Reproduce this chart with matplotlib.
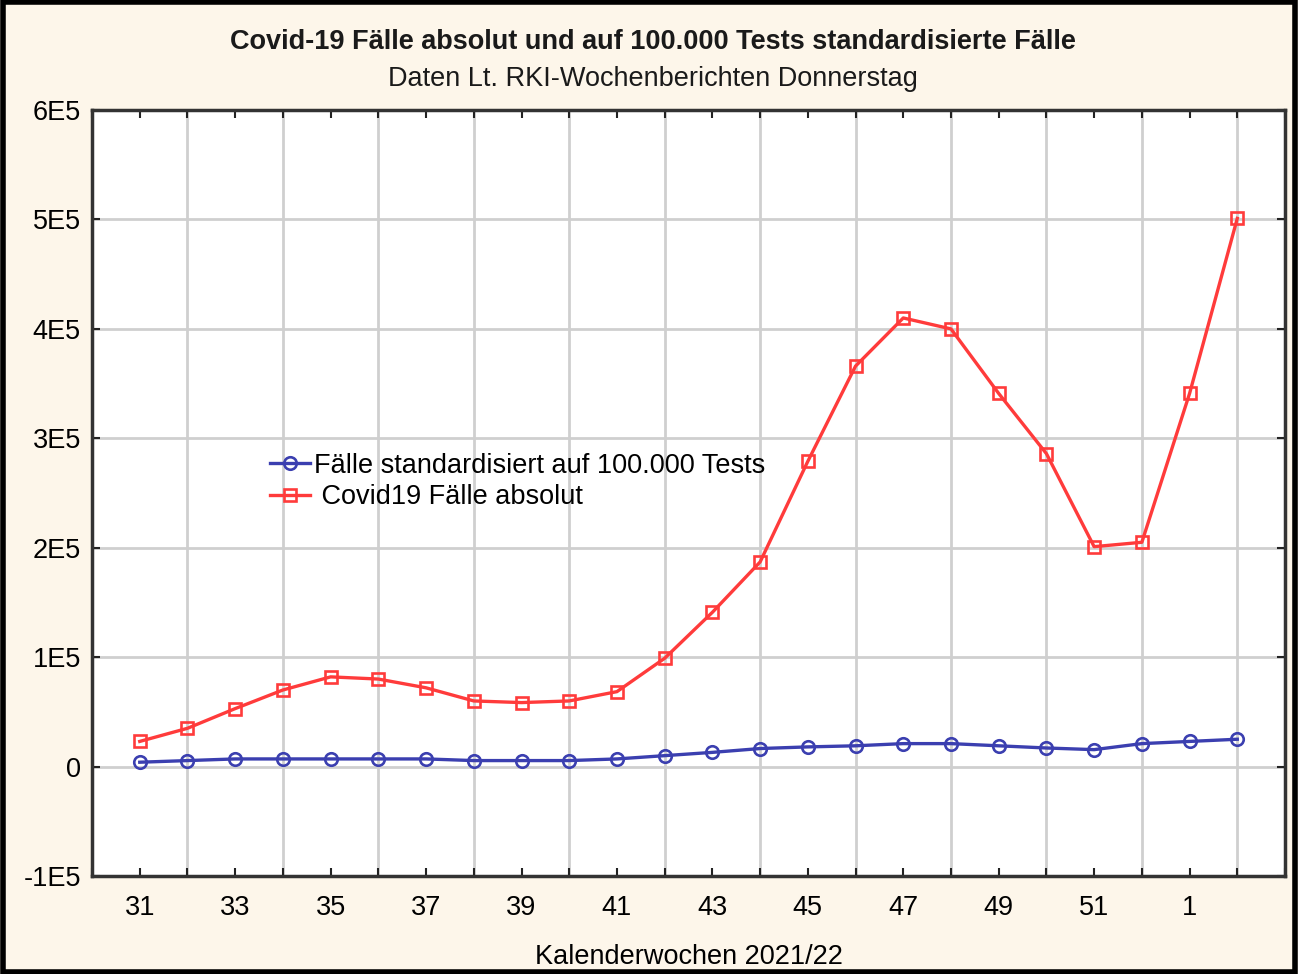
import matplotlib.pyplot as plt
from matplotlib.patches import Rectangle

# calendar weeks 31/2021 .. 2/2022
weeks = [31, 32, 33, 34, 35, 36, 37, 38, 39, 40, 41, 42, 43, 44, 45, 46,
         47, 48, 49, 50, 51, 52, 1, 2]
cases_abs = [23000, 35000, 53000, 70000, 82000, 80000, 72000, 60000, 58500,
             60000, 68500, 99000, 141000, 187000, 279000, 366000, 410000,
             400000, 341000, 286000, 201000, 205000, 341000, 501000]
cases_std = [4000, 5500, 7000, 7000, 7000, 7000, 7000, 5500, 5500, 5500,
             7000, 10000, 13000, 16500, 18000, 19000, 21000, 21000, 19000,
             17000, 15500, 21000, 23000, 25000]
y_ticks = [-100000, 0, 100000, 200000, 300000, 400000, 500000, 600000]
y_labels = ['-1E5', '0', '1E5', '2E5', '3E5', '4E5', '5E5', '6E5']

plt.rcParams['font.family'] = ['Liberation Sans', 'DejaVu Sans']

bg = '#fdf6ea'
fig = plt.figure(figsize=(12.98, 9.74), dpi=100, facecolor=bg)
ax = fig.add_axes([0.0709, 0.1006, 0.9191, 0.7864])
ax.set_facecolor('white')

x = list(range(len(weeks)))
ax.plot(x, cases_std, color='#3b3fb0', lw=2.4, marker='o', ms=9,
        mfc='none', mec='#3b3fb0', mew=1.9,
        label='Fälle standardisiert auf 100.000 Tests', zorder=3)
ax.plot(x, cases_abs, color='#ff3b3b', lw=2.4, marker='s', ms=9,
        mfc='none', mec='#ff3b3b', mew=1.9,
        label=' Covid19 Fälle absolut', zorder=3)

ax.set_xlim(-1, len(weeks))
ax.set_ylim(-100000, 600000)

ax.set_xticks(range(-1, len(weeks) + 1), minor=True)
ax.set_xticks(x[::2])
ax.set_xticklabels([str(w) for w in weeks[::2]])
ax.set_yticks(y_ticks)
ax.set_yticklabels(y_labels)

ax.grid(True, which='minor', axis='x', color='#cfcfcf', lw=2)
ax.grid(True, which='major', axis='y', color='#cfcfcf', lw=2)
ax.set_axisbelow(True)

ax.tick_params(axis='x', which='both', direction='in', top=True, length=6,
               width=1.5, color='#222222')
ax.tick_params(axis='x', which='major', labelsize=19.5, pad=14)
ax.tick_params(axis='y', direction='in', right=True, length=6, width=1.5,
               labelsize=19.5, pad=8, color='#222222')
for s in ax.spines.values():
    s.set_linewidth(2.5)
    s.set_color('#333333')

ax.set_xlabel('Kalenderwochen 2021/22', fontsize=19.5, labelpad=16)

fig.text(0.503, 0.957, 'Covid-19 Fälle absolut und auf 100.000 Tests standardisierte Fälle',
         ha='center', va='center', fontsize=19.5, fontweight='bold',
         color='#1a1a1a')
fig.text(0.503, 0.919, 'Daten Lt. RKI-Wochenberichten Donnerstag',
         ha='center', va='center', fontsize=19.5, color='#1a1a1a')

ax.legend(loc='center left', bbox_to_anchor=(0.149, 0.515), frameon=False,
          fontsize=19.5, handlelength=1.5, handletextpad=0.15,
          labelspacing=0.2, borderaxespad=0, borderpad=0)

# outer frame of the picture
fig.patches.append(Rectangle((0.002, 0.002), 0.996, 0.996,
                             transform=fig.transFigure, fill=False,
                             ec='black', lw=4))

fig.savefig('out.png', dpi=100, facecolor=bg)
